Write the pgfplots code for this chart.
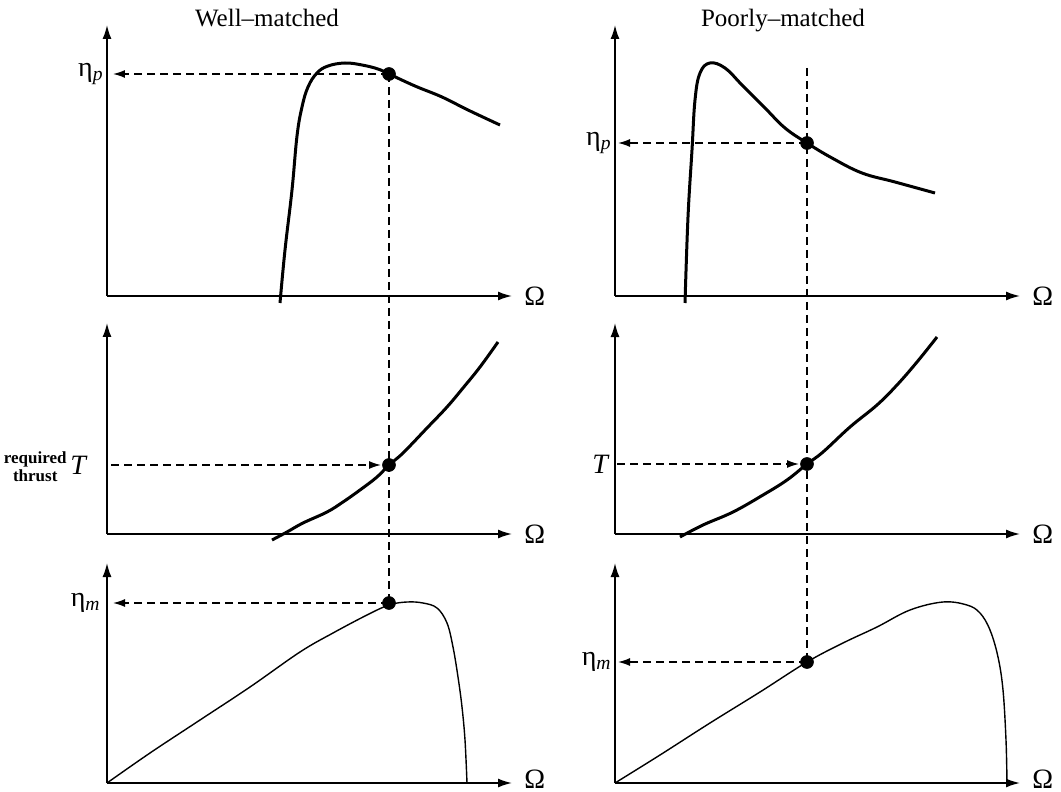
\documentclass[border=0pt]{standalone}
\usepackage{fontspec}
\setmainfont{Liberation Serif}
\usepackage{pgfplots}
\pgfplotsset{compat=1.18}
\usetikzlibrary{arrows.meta}

% one unit = one pixel of the 1061x792 reference, origin at each panel's corner
\pgfplotsset{
  panel/.style={
    x=0.5pt, y=0.5pt, anchor=south west,
    axis lines*=left, xmin=0, xmax=405, ymin=0,
    xtick=\empty, ytick=\empty, clip=false,
    axis line style={line width=0.8pt, -{Latex[length=7pt,width=4.5pt]}},
  },
  thick curve/.style={black, line width=1.5pt, smooth, tension=0.65, no marks},
  thin curve/.style={black, line width=0.7pt, smooth, tension=0.6, no marks},
  guide/.style={black, line width=0.7pt, dash pattern=on 4pt off 2.5pt, no marks},
  guide arrow/.style={guide, -{Latex[length=6pt,width=4pt]}},
  spot/.style={only marks, mark=*, mark size=3.2pt, black},
}
\newcommand\lbl{\fontsize{14}{16}\selectfont}
\newcommand\omg[1][0]{\node[anchor=west, inner sep=0pt, font=\lbl] at (axis cs:405,#1) {\hspace{6pt}Ω};}

\begin{document}
\begin{tikzpicture}
\path[use as bounding box] (0,0) rectangle (530.5pt,-396pt);

% ---------- well-matched ----------
\begin{axis}[panel, ymax=271, at={(53.5pt,-148pt)}]
\addplot[thick curve] coordinates {(173,-7) (178,46) (185,106) (190,160) (195,189) (201,209) (210,223) (221,230) (238,233) (255,231) (271,227) (282,222) (308,210) (335,199) (361,186) (393,171)};
\addplot[guide arrow] coordinates {(282,222) (6,222)};
\addplot[guide] coordinates {(282,222) (282,-307)};
\addplot[spot] coordinates {(282,222)};
\node[anchor=east, inner sep=0pt, font=\lbl] at (axis cs:-3,222) {η\textsubscript{\textit{p}}};
\node[anchor=base, font=\fontsize{12.5}{15}\selectfont] at (axis cs:160,269) {Well--matched};
\omg
\end{axis}

\begin{axis}[panel, ymax=211, at={(53.5pt,-267pt)}]
\addplot[thick curve] coordinates {(165,-6) (180,2) (196,11) (220,22) (236,32) (253,44) (270,57) (282,69) (296,81) (320,106) (340,127) (356,146) (373,167) (391,192)};
\addplot[guide arrow] coordinates {(4,69) (274,69)};
\addplot[spot] coordinates {(282,69)};
\node[anchor=east, inner sep=0pt, font=\lbl] at (axis cs:-19,69) {\textit{T}};
\node[anchor=east, inner sep=0pt, align=center, font=\bfseries\fontsize{8.5}{9}\selectfont] at (axis cs:-40,67) {required\\thrust};
\omg
\end{axis}

\begin{axis}[panel, ymax=220, at={(53.5pt,-391.5pt)}]
\addplot[thin curve] coordinates {(0,0) (43,30) (93,63) (143,96) (193,131) (226,150) (260,168) (282,178) (300,181) (316,180) (330,175) (340,160) (346,136) (351,106) (355,76) (358,43) (360,0)};
\addplot[guide arrow] coordinates {(282,180) (6,180)};
\addplot[spot] coordinates {(282,180)};
\node[anchor=east, inner sep=0pt, font=\lbl] at (axis cs:-6,180) {η\textsubscript{\textit{m}}};
\omg[4]
\end{axis}

% ---------- poorly-matched ----------
\begin{axis}[panel, ymax=271, at={(307.5pt,-148pt)}]
\addplot[thick curve] coordinates {(70,-7) (73,79) (77,146) (80,196) (85,223) (95,233) (110,228) (127,211) (150,188) (170,168) (192,153) (217,138) (247,123) (280,114) (320,103)};
\addplot[guide arrow] coordinates {(192,153) (3,153)};
\addplot[guide] coordinates {(192,228) (192,-366)};
\addplot[spot] coordinates {(192,153)};
\node[anchor=east, inner sep=0pt, font=\lbl] at (axis cs:-3,153) {η\textsubscript{\textit{p}}};
\node[anchor=base, font=\fontsize{12.5}{15}\selectfont] at (axis cs:168,269) {Poorly--matched};
\omg
\end{axis}

\begin{axis}[panel, ymax=211, at={(307.5pt,-267pt)}]
\addplot[thick curve] coordinates {(65,-3) (88,9) (118,22) (148,39) (172,54) (192,70) (208,82) (235,107) (262,129) (282,149) (302,172) (322,197)};
\addplot[guide arrow] coordinates {(2,70) (184,70)};
\addplot[spot] coordinates {(192,70)};
\node[anchor=east, inner sep=0pt, font=\lbl] at (axis cs:-5,70) {\textit{T}};
\omg
\end{axis}

\begin{axis}[panel, ymax=220, at={(307.5pt,-391.5pt)}]
\addplot[thin curve] coordinates {(0,0) (45,28) (95,60) (145,91) (192,121) (228,140) (262,156) (295,173) (328,181) (352,178) (365,170) (375,153) (383,126) (388,93) (391,43) (392,0)};
\addplot[guide arrow] coordinates {(192,121) (3,121)};
\addplot[spot] coordinates {(192,121)};
\node[anchor=east, inner sep=0pt, font=\lbl] at (axis cs:-3,121) {η\textsubscript{\textit{m}}};
\omg[4]
\end{axis}
\end{tikzpicture}
\end{document}
